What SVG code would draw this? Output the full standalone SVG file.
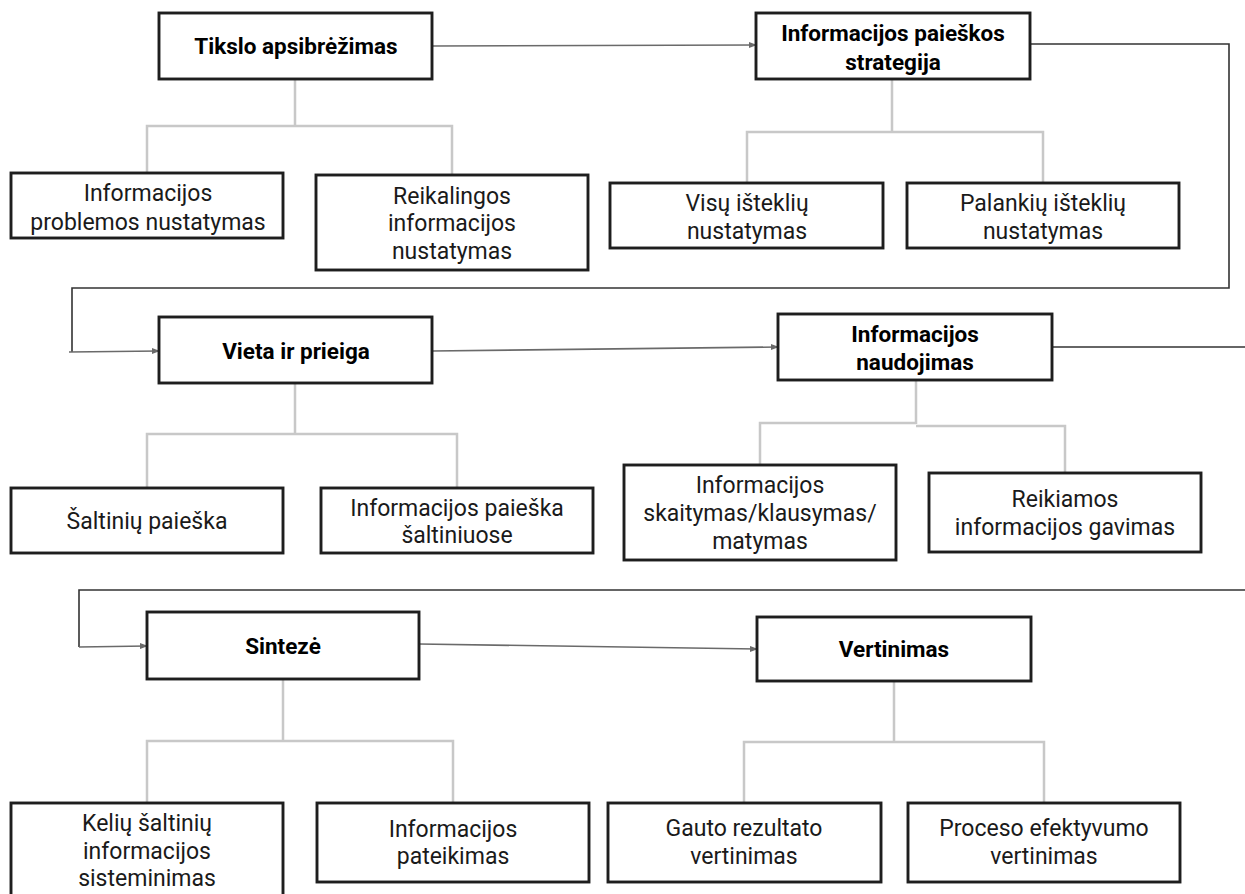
<svg xmlns="http://www.w3.org/2000/svg" width="1245" height="894" viewBox="0 0 1245 894">
<style>
.box{fill:#fff;stroke:#1e1e1e;stroke-width:2.9}
.t{font-family:Roboto,"Liberation Sans",sans-serif;font-size:23px;fill:#1a1a1a;text-anchor:middle}
.b{font-weight:700;font-size:22.5px;fill:#000}
.tree{fill:none;stroke:#c8c8c8;stroke-width:2.5}
.flow{fill:none;stroke:#6a6a6a;stroke-width:1.6}
.dark{fill:none;stroke:#333;stroke-width:1.6}
</style>
<defs>
<marker id="ah" markerWidth="8" markerHeight="8" refX="7" refY="4" orient="auto" markerUnits="userSpaceOnUse">
<path d="M0,1 L8,4 L0,7 z" fill="#6a6a6a"/>
</marker>
</defs>
<rect width="1245" height="894" fill="#fff"/>
<g id="connectors">
<path class="flow" d="M432,46 L756,45" marker-end="url(#ah)"/>
<path class="dark" d="M1030,44 L1229,44 L1229,288 L72,288 L72,352"/>
<path class="flow" d="M69,352 L159,351" marker-end="url(#ah)"/>
<path class="flow" d="M432,351 L778,347" marker-end="url(#ah)"/>
<path class="dark" d="M1052,347 L1250,347"/>
<path class="dark" d="M1250,590 L79,590 L79,647"/>
<path class="flow" d="M79,647 L147,646" marker-end="url(#ah)"/>
<path class="flow" d="M419,644 L757,649" marker-end="url(#ah)"/>
<path class="tree" d="M295,79 V126 M147,173 V126 H452 V175"/>
<path class="tree" d="M892,79 V132 M747,183 V132 H1043 V183"/>
<path class="tree" d="M295,383 V434 M147,488 V434 H457 V488"/>
<path class="tree" d="M916,380 V424 M760,465 V423 H916 M916,426 H1065 V473"/>
<path class="tree" d="M283,679 V741 M147,803 V741 H453 V803"/>
<path class="tree" d="M894,681 V742 M744,803 V742 H1044 V803"/>
</g>
<g id="n1"><rect class="box" x="159" y="13" width="273" height="66"/><text class="t b" x="296" y="46" dy="0.35em">Tikslo apsibrėžimas</text></g>
<g id="n1a"><rect class="box" x="11" y="173" width="272" height="65"/><text class="t" x="148" y="193" dy="0.35em">Informacijos</text><text class="t" x="148" y="222" dy="0.35em">problemos nustatymas</text></g>
<g id="n1b"><rect class="box" x="316" y="175" width="272" height="95"/><text class="t" x="452" y="196" dy="0.35em">Reikalingos</text><text class="t" x="452" y="223" dy="0.35em">informacijos</text><text class="t" x="452" y="251" dy="0.35em">nustatymas</text></g>
<g id="n2"><rect class="box" x="756" y="13" width="274" height="66"/><text class="t b" x="893" y="33" dy="0.35em">Informacijos paieškos</text><text class="t b" x="893" y="62" dy="0.35em">strategija</text></g>
<g id="n2a"><rect class="box" x="610" y="183" width="273" height="65"/><text class="t" x="747" y="203" dy="0.35em">Visų išteklių</text><text class="t" x="747" y="231" dy="0.35em">nustatymas</text></g>
<g id="n2b"><rect class="box" x="907" y="183" width="272" height="65"/><text class="t" x="1043" y="203" dy="0.35em">Palankių išteklių</text><text class="t" x="1043" y="231" dy="0.35em">nustatymas</text></g>
<g id="n3"><rect class="box" x="159" y="317" width="273" height="66"/><text class="t b" x="296" y="351" dy="0.35em">Vieta ir prieiga</text></g>
<g id="n3a"><rect class="box" x="11" y="488" width="272" height="65"/><text class="t" x="147" y="521" dy="0.35em">Šaltinių paieška</text></g>
<g id="n3b"><rect class="box" x="321" y="488" width="272" height="65"/><text class="t" x="457" y="508" dy="0.35em">Informacijos paieška</text><text class="t" x="457" y="535" dy="0.35em">šaltiniuose</text></g>
<g id="n4"><rect class="box" x="778" y="314" width="274" height="66"/><text class="t b" x="915" y="334" dy="0.35em">Informacijos</text><text class="t b" x="915" y="362" dy="0.35em">naudojimas</text></g>
<g id="n4a"><rect class="box" x="624" y="465" width="272" height="95"/><text class="t" x="760" y="485" dy="0.35em">Informacijos</text><text class="t" x="760" y="513" dy="0.35em">skaitymas/klausymas/</text><text class="t" x="760" y="541" dy="0.35em">matymas</text></g>
<g id="n4b"><rect class="box" x="929" y="473" width="272" height="79"/><text class="t" x="1065" y="499" dy="0.35em">Reikiamos</text><text class="t" x="1065" y="527" dy="0.35em">informacijos gavimas</text></g>
<g id="n5"><rect class="box" x="147" y="612" width="272" height="67"/><text class="t b" x="283" y="646" dy="0.35em">Sintezė</text></g>
<g id="n5a"><rect class="box" x="11" y="803" width="272" height="100"/><text class="t" x="147" y="823" dy="0.35em">Kelių šaltinių</text><text class="t" x="147" y="851" dy="0.35em">informacijos</text><text class="t" x="147" y="878" dy="0.35em">sisteminimas</text></g>
<g id="n5b"><rect class="box" x="317" y="803" width="272" height="79"/><text class="t" x="453" y="829" dy="0.35em">Informacijos</text><text class="t" x="453" y="856" dy="0.35em">pateikimas</text></g>
<g id="n6"><rect class="box" x="757" y="617" width="274" height="64"/><text class="t b" x="894" y="649" dy="0.35em">Vertinimas</text></g>
<g id="n6a"><rect class="box" x="608" y="803" width="273" height="79"/><text class="t" x="744" y="828" dy="0.35em">Gauto rezultato</text><text class="t" x="744" y="856" dy="0.35em">vertinimas</text></g>
<g id="n6b"><rect class="box" x="908" y="803" width="272" height="79"/><text class="t" x="1044" y="828" dy="0.35em">Proceso efektyvumo</text><text class="t" x="1044" y="856" dy="0.35em">vertinimas</text></g>
</svg>
